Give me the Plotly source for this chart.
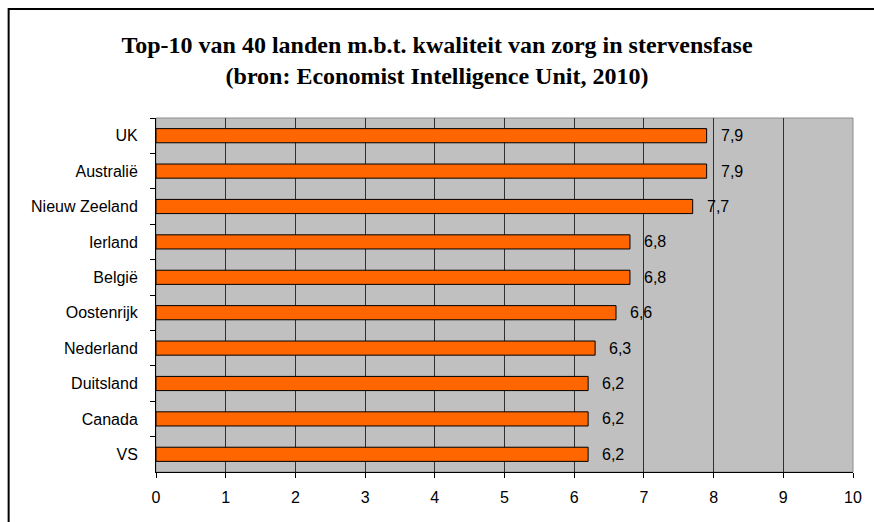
import plotly.graph_objects as go

countries = ["UK", "Australië", "Nieuw Zeeland", "Ierland", "België",
             "Oostenrijk", "Nederland", "Duitsland", "Canada", "VS"]
scores = [7.9, 7.9, 7.7, 6.8, 6.8, 6.6, 6.3, 6.2, 6.2, 6.2]
x_ticks = [0, 1, 2, 3, 4, 5, 6, 7, 8, 9, 10]

W, H = 874, 522
L, R, T, B = 156, 18, 118, 50
pw, ph = W - L - R, H - T - B

def px_x(p):
    return (p - L) / pw

def px_y(p):
    return (H - B - p) / ph

fig = go.Figure()
fig.add_trace(go.Bar(
    x=scores, y=countries, orientation="h", width=0.4,
    marker=dict(color="#FF6600", line=dict(color="#000000", width=1)),
    hoverinfo="x+y",
))

for c, v in zip(countries, scores):
    fig.add_annotation(
        x=v, y=c, xref="x", yref="y",
        text=f"{v:.1f}".replace(".", ","),
        showarrow=False, xanchor="left", yanchor="middle", xshift=12,
        font=dict(family="Liberation Sans, Arial", size=16, color="#000000"),
    )

# plot area frame (light top/right)
fig.add_shape(type="rect", xref="paper", yref="paper", x0=0, x1=1, y0=0, y1=1,
              line=dict(color="#8C8C8C", width=1), layer="below")
# outer chart border
fig.add_shape(type="rect", xref="paper", yref="paper",
              x0=px_x(8), x1=px_x(885), y0=px_y(540), y1=px_y(9),
              line=dict(color="#000000", width=2))

fig.update_layout(
    width=W, height=H,
    margin=dict(l=L, r=R, t=T, b=B),
    paper_bgcolor="#FFFFFF",
    plot_bgcolor="#C0C0C0",
    showlegend=False,
    bargap=0.6,
    title=dict(
        text="Top-10 van 40 landen m.b.t. kwaliteit van zorg in stervensfase<br>(bron: Economist Intelligence Unit, 2010)",
        x=0.5, xanchor="center", xref="container",
        y=1 - 53 / H, yanchor="middle", yref="container",
        font=dict(family="Liberation Serif, Times New Roman", size=24, color="#000000", weight="bold"),
    ),
    xaxis=dict(
        range=[0, 10], tickvals=x_ticks, ticktext=[str(t) for t in x_ticks],
        showgrid=True, gridcolor="#303030", gridwidth=1,
        showline=True, linecolor="#000000", linewidth=1,
        ticks="outside", ticklen=5, tickcolor="#000000",
        tickfont=dict(family="Liberation Sans, Arial", size=16, color="#000000"),
        zeroline=False, ticklabelstandoff=6,
    ),
    yaxis=dict(
        categoryorder="array", categoryarray=countries, autorange="reversed",
        showgrid=False, showline=True, linecolor="#000000", linewidth=1,
        ticks="outside", ticklen=5, tickcolor="#000000", tickson="boundaries",
        tickfont=dict(family="Liberation Sans, Arial", size=16, color="#000000"),
        ticklabelstandoff=14,
    ),
)

fig.write_html("out.html", config={"displayModeBar": False},
               post_script="document.body.style.margin='0';document.body.style.overflow='hidden';")
